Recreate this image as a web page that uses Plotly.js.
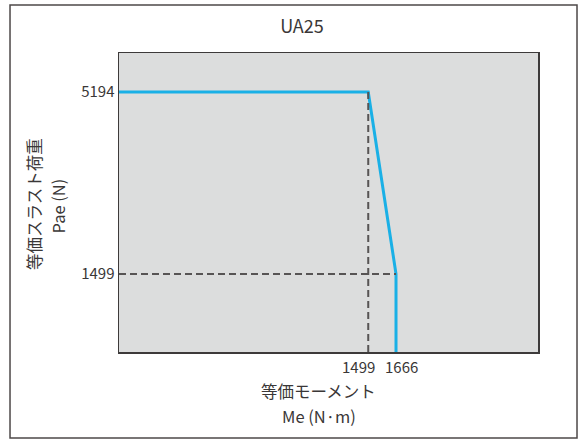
<!DOCTYPE html>
<html>
<head>
<meta charset="utf-8">
<script src="https://cdn.plot.ly/plotly-3.0.1.min.js"></script>
<style>
html,body{margin:0;padding:0;background:#fff;}
#chart{width:579px;height:441px;}
</style>
</head>
<body>
<div id="chart"></div>
<script>
// Data
var chartTitle = "UA25";
var moment = [0, 1499, 1666, 1666];          // Me (N·m)
var thrust = [5194, 5194, 1499, -85];         // Pae (N); last point runs to the axis floor
var yTickVals = [1499, 5194];
var yTickText = ["1499", "5194"];
var xTickVals = [1499, 1666];
var xTickText = ["1499", "1666"];
var xTitleLines = ["等価モーメント", "Me (N·m)"];
var yTitleLines = ["等価スラスト荷重", "Pae (N)"];

var xRange = [0, 2520];
var yRange = [-85, 5986];

var FONT = '"Noto Sans CJK JP", "Noto Sans", sans-serif';
var TXT = '#3a3737';

var traces = [
  {
    x: moment, y: thrust, type: 'scatter', mode: 'lines',
    line: {color: '#1ab0e6', width: 3},
    hoverinfo: 'skip', showlegend: false, cliponaxis: true
  },
  {
    x: [xRange[0], xTickVals[1]], y: [yTickVals[0], yTickVals[0]],
    type: 'scatter', mode: 'lines',
    line: {color: '#575454', width: 2, dash: '7px,4px'},
    hoverinfo: 'skip', showlegend: false
  },
  {
    x: [xTickVals[0], xTickVals[0]], y: [yTickVals[1], yRange[0]],
    type: 'scatter', mode: 'lines',
    line: {color: '#575454', width: 2, dash: '7px,4px'},
    hoverinfo: 'skip', showlegend: false
  }
];

function txt(o, size) {
  o.showarrow = false;
  o.font = {family: FONT, size: size, color: TXT};
  return o;
}

var annotations = [
  txt({xref: 'x', yref: 'paper', x: xTickVals[0], y: 0, yshift: -14, xshift: -10,
       text: xTickText[0], xanchor: 'center', yanchor: 'middle'}, 15),
  txt({xref: 'x', yref: 'paper', x: xTickVals[1], y: 0, yshift: -14, xshift: 5,
       text: xTickText[1], xanchor: 'center', yanchor: 'middle'}, 15),
  txt({xref: 'paper', yref: 'paper', x: 0.475, y: -0.1304,
       text: xTitleLines[0], xanchor: 'center', yanchor: 'middle'}, 16.5),
  txt({xref: 'paper', yref: 'paper', x: 0.4785, y: -0.2141,
       text: xTitleLines[1], xanchor: 'center', yanchor: 'middle'}, 16.5),
  txt({xref: 'paper', yref: 'paper', x: -0.2029, y: 0.495, textangle: -90,
       text: yTitleLines[0], xanchor: 'center', yanchor: 'middle'}, 16.5),
  txt({xref: 'paper', yref: 'paper', x: -0.1456, y: 0.49, textangle: -90,
       text: yTitleLines[1], xanchor: 'center', yanchor: 'middle'}, 16.5)
];

var layout = {
  width: 579, height: 441,
  margin: {l: 119, r: 41, t: 53, b: 89},
  paper_bgcolor: '#ffffff',
  plot_bgcolor: '#dcdddd',
  font: {family: FONT, color: TXT},
  title: {
    text: chartTitle,
    xref: 'paper', yref: 'paper', x: 0.4368, y: 1.0535,
    xanchor: 'center', yanchor: 'middle',
    font: {family: FONT, size: 18, color: TXT}
  },
  xaxis: {
    range: xRange, showgrid: false, zeroline: false,
    showticklabels: false, ticks: '',
    showline: true, mirror: true, linecolor: '#3d3a3a', linewidth: 1.5,
    fixedrange: true
  },
  yaxis: {
    range: yRange, showgrid: false, zeroline: false,
    tickmode: 'array', tickvals: yTickVals, ticktext: yTickText, ticks: '',
    tickfont: {family: FONT, size: 15, color: TXT},
    showline: true, mirror: true, linecolor: '#3d3a3a', linewidth: 1.5,
    fixedrange: true
  },
  annotations: annotations,
  shapes: [
    {
      type: 'rect', xref: 'paper', yref: 'paper',
      x0: -0.2601, x1: 1.0931, y0: -0.2876, y1: 1.1605,
      line: {color: '#4d4848', width: 1.5}, fillcolor: 'rgba(0,0,0,0)',
      layer: 'below'
    }
  ]
};

Plotly.newPlot('chart', traces, layout, {staticPlot: true, displayModeBar: false});
</script>
</body>
</html>
